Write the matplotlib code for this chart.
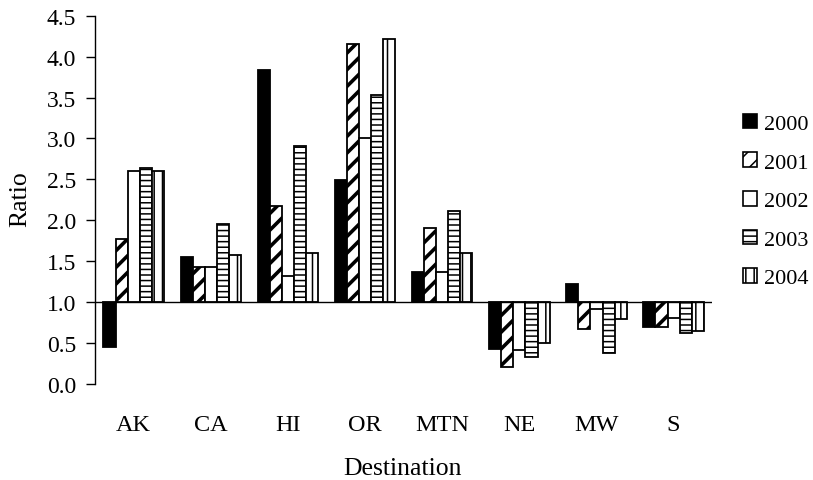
import numpy as np
import matplotlib
matplotlib.use("Agg")
import matplotlib.pyplot as plt
from matplotlib.patches import Patch

plt.rcParams['font.family'] = ['Liberation Serif', 'DejaVu Serif']

# ratio by destination and year (bars grow from the 1.0 baseline)
destinations = ["AK", "CA", "HI", "OR", "MTN", "NE", "MW", "S"]
years = ["2000", "2001", "2002", "2003", "2004"]
r2000 = [0.45, 1.55, 3.84, 2.49, 1.37, 0.42, 1.22, 0.69]
r2001 = [1.77, 1.43, 2.17, 4.15, 1.91, 0.21, 0.67, 0.69]
r2002 = [2.60, 1.43, 1.32, 3.00, 1.37, 0.41, 0.91, 0.81]
r2003 = [2.64, 1.95, 2.91, 3.53, 2.11, 0.33, 0.38, 0.62]
r2004 = [2.60, 1.58, 1.60, 4.22, 1.60, 0.50, 0.79, 0.65]
series = [r2000, r2001, r2002, r2003, r2004]

baseline = 1.0
faces = ["black", "white", "white", "white", "white"]
hatches = [None, "//", None, "---", "||"]
hatch_lw = [1.0, 2.6, 1.0, 1.1, 1.1]

fig = plt.figure(figsize=(8.13, 4.81), dpi=100)
ax = fig.add_axes([0.117, 0.2, 0.759, 0.765])

x = np.arange(len(destinations))
w = 0.157
for k, vals in enumerate(series):
    plt.rcParams['hatch.linewidth'] = hatch_lw[k]
    v = np.array(vals)
    ax.bar(x + (k - 2) * w, v - baseline, width=w, bottom=baseline,
           color=faces[k], edgecolor="black", linewidth=1.3,
           hatch=hatches[k], zorder=2)

ax.axhline(baseline, color="black", linewidth=1.0, zorder=3)

ax.set_xlim(-0.5, len(destinations) - 0.5)
ax.set_ylim(0, 4.5)
yt = np.arange(0, 4.51, 0.5)
ax.set_yticks(yt)
ax.set_yticklabels([f"{t:.1f}" for t in yt], fontsize=17)
ax.set_xticks(x)
ax.set_xticklabels(destinations, fontsize=17.5)
ax.tick_params(axis="x", length=0, pad=21.5)
ax.tick_params(axis="y", direction="out", length=6.5, width=1, pad=7)

for s in ["top", "right", "bottom"]:
    ax.spines[s].set_visible(False)
ax.spines["left"].set_linewidth(1.0)

ax.set_ylabel("Ratio", fontsize=18.5)
ax.yaxis.set_label_coords(-0.103, 0.505)
ax.set_xlabel("Destination", fontsize=18.5)
ax.xaxis.set_label_coords(0.498, -0.198)

handles = []
for k in range(len(years)):
    plt.rcParams['hatch.linewidth'] = hatch_lw[k]
    handles.append(Patch(facecolor=faces[k], edgecolor="black",
                         hatch=hatches[k], linewidth=1.2))
fig.legend(handles, years, loc="center left", bbox_to_anchor=(0.914, 0.58),
           frameon=False, fontsize=16, handlelength=0.63, handleheight=0.63,
           handletextpad=0.3, labelspacing=0.83, borderpad=0, borderaxespad=0)

fig.savefig("out.png", dpi=100)
